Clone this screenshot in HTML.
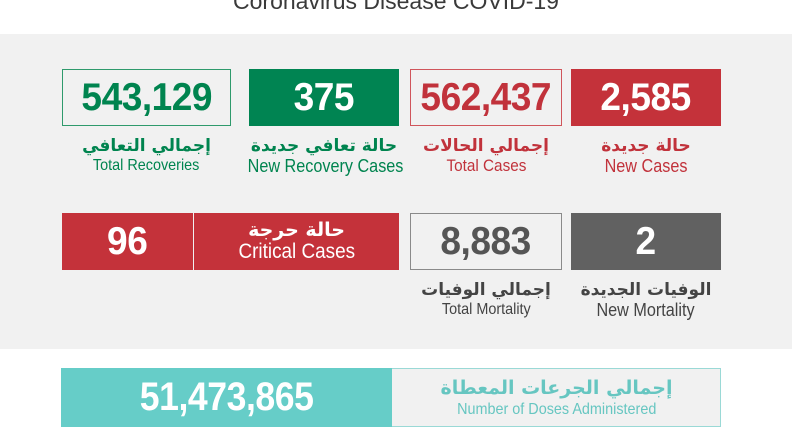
<!DOCTYPE html>
<html><head><meta charset="utf-8"><style>
*{margin:0;padding:0;box-sizing:border-box}
body{width:792px;height:446px;background:#fff;position:relative;overflow:hidden;font-family:"Liberation Sans","Noto Sans CJK SC","DejaVu Sans",sans-serif}
.a{position:absolute}
.title{left:0;width:792px;top:-12px;text-align:center;font-size:23px;color:#3a3a3a}
.bg{left:0;top:34px;width:792px;height:315px;background:#f1f1f1}
.box{position:absolute;display:flex;align-items:center;justify-content:center}
.n{font-weight:bold;font-size:39px;display:inline-block;transform:scaleX(0.95);letter-spacing:-0.5px}
.lab{position:absolute;text-align:center;white-space:nowrap;line-height:20px}
.ar{font-weight:bold;font-size:17px;direction:rtl;font-family:"DejaVu Sans",sans-serif}
.en{font-size:16px;display:inline-block;transform:scaleX(0.9)}
</style></head><body>
<div class="a title">Coronavirus Disease COVID-19</div>
<div class="a bg"></div>

<div class="box" style="left:62px;top:69px;width:169px;height:57px;border:1.5px solid #2f9a6c;color:#00844f"><span class="n">543,129</span></div>
<div class="box" style="left:249px;top:69px;width:150px;height:57px;background:#008452;color:#fff"><span class="n">375</span></div>
<div class="box" style="left:410px;top:69px;width:152px;height:57px;border:1.5px solid #d0555b;color:#c1323b"><span class="n">562,437</span></div>
<div class="box" style="left:571px;top:69px;width:150px;height:57px;background:#c4323a;color:#fff"><span class="n">2,585</span></div>

<div class="lab" style="left:62px;width:169px;top:136px;color:#00844f"><div class="ar">إجمالي التعافي</div><div class="en">Total Recoveries</div></div>
<div class="lab" style="left:239px;width:170px;top:136px;color:#00844f"><div class="ar">حالة تعافي جديدة</div><div class="en" style="font-size:18px">New Recovery Cases</div></div>
<div class="lab" style="left:410px;width:152px;top:136px;color:#c1323b"><div class="ar">إجمالي الحالات</div><div class="en" style="font-size:17px">Total Cases</div></div>
<div class="lab" style="left:571px;width:150px;top:136px;color:#c1323b"><div class="ar">حالة جديدة</div><div class="en" style="font-size:18px">New Cases</div></div>

<div class="box" style="left:62px;top:213px;width:131px;height:57px;background:#c4323a;color:#fff"><span class="n">96</span></div>
<div class="box" style="left:194px;top:213px;width:205px;height:57px;background:#c4323a;color:#fff;flex-direction:column;line-height:1.1"><div class="ar" style="font-size:19px">حالة حرجة</div><div class="en" style="font-size:21px">Critical Cases</div></div>
<div class="box" style="left:410px;top:213px;width:152px;height:57px;border:1.5px solid #8a8a8a;color:#555"><span class="n">8,883</span></div>
<div class="box" style="left:571px;top:213px;width:150px;height:57px;background:#616161;color:#fff"><span class="n">2</span></div>

<div class="lab" style="left:410px;width:152px;top:280px;color:#444"><div class="ar">إجمالي الوفيات</div><div class="en">Total Mortality</div></div>
<div class="lab" style="left:571px;width:150px;top:280px;color:#444"><div class="ar">الوفيات الجديدة</div><div class="en" style="font-size:18px">New Mortality</div></div>

<div class="a" style="left:61px;top:368px;width:660px;height:59px;border:1.5px solid #9ad9d6;background:#f1f1f1"></div>
<div class="box" style="left:61px;top:368px;width:331px;height:59px;background:#66cdc8;color:#fff"><span class="n" style="font-size:40px;transform:scaleX(0.89)">51,473,865</span></div>
<div class="lab" style="left:392px;width:329px;top:378px;color:#66c6c1;line-height:21px"><div class="ar" style="font-size:19px">إجمالي الجرعات المعطاة</div><div class="en">Number of Doses Administered</div></div>
</body></html>
